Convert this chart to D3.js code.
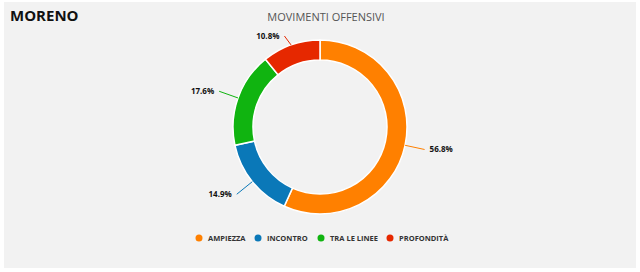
<!DOCTYPE html>
<html>
<head>
<meta charset="utf-8">
<script src="https://cdn.jsdelivr.net/npm/d3@7"></script>
<style>
  body { margin: 0; background: #fff; }
  svg { display: block; font-family: "Open Sans", sans-serif; }
</style>
</head>
<body>
<svg id="chart" width="640" height="272"></svg>
<script>
var categories = ["AMPIEZZA", "INCONTRO", "TRA LE LINEE", "PROFONDITÀ"];
var values = [56.8, 14.9, 17.6, 10.8];
var colors = ["#ff8000", "#0a78b8", "#10b410", "#e62800"];

var svg = d3.select("#chart");

// panel background
svg.append("rect")
    .attr("x", 4).attr("y", 2)
    .attr("width", 632).attr("height", 266)
    .attr("fill", "#f2f2f2");

svg.append("text")
    .attr("x", 10).attr("y", 21)
    .attr("font-size", 15).attr("font-weight", "bold")
    .attr("fill", "#111")
    .text("MORENO");

svg.append("text")
    .attr("x", 326).attr("y", 21)
    .attr("text-anchor", "middle")
    .attr("font-size", 11)
    .attr("fill", "#555")
    .text("MOVIMENTI OFFENSIVI");

var cx = 320, cy = 127, outer = 87, inner = 67;

var data = categories.map(function(c, i) { return { name: c, value: values[i], color: colors[i] }; });

var pie = d3.pie().sort(null).value(function(d) { return d.value; });
var arc = d3.arc().innerRadius(inner).outerRadius(outer);

var g = svg.append("g").attr("transform", "translate(" + cx + "," + cy + ")");
var arcs = pie(data);

g.selectAll("path.slice")
    .data(arcs)
  .enter().append("path")
    .attr("class", "slice")
    .attr("d", arc)
    .attr("fill", function(d) { return d.data.color; })
    .attr("stroke", "#fff")
    .attr("stroke-width", 1.5);

function pt(a, r) { return [Math.sin(a) * r, -Math.cos(a) * r]; }

arcs.forEach(function(d) {
  var a = (d.startAngle + d.endAngle) / 2;
  var p0 = pt(a, outer);
  var p1 = pt(a, 107);
  p1[1] = Math.max(p1[1], 36 - cy);
  var right = Math.sin(a) > 0;
  g.append("line")
      .attr("x1", p0[0]).attr("y1", p0[1])
      .attr("x2", p1[0]).attr("y2", p1[1])
      .attr("stroke", d.data.color)
      .attr("stroke-width", 1);
  g.append("text")
      .attr("x", p1[0] + (right ? 5 : -5))
      .attr("y", p1[1] + 3)
      .attr("text-anchor", right ? "start" : "end")
      .attr("font-size", 8).attr("font-weight", "bold")
      .attr("fill", "#111")
      .text(d3.format(".1f")(d.data.value) + "%");
});

// legend
var legendX = [199, 258, 321, 390];
var lg = svg.append("g").selectAll("g")
    .data(data)
  .enter().append("g")
    .attr("transform", function(d, i) { return "translate(" + legendX[i] + ",238)"; });
lg.append("circle").attr("r", 3.5).attr("fill", function(d) { return d.color; });
lg.append("text")
    .attr("x", 9).attr("y", 3)
    .attr("font-size", 7.5).attr("font-weight", "bold")
    .attr("fill", "#333")
    .text(function(d) { return d.name; });
</script>
</body>
</html>
